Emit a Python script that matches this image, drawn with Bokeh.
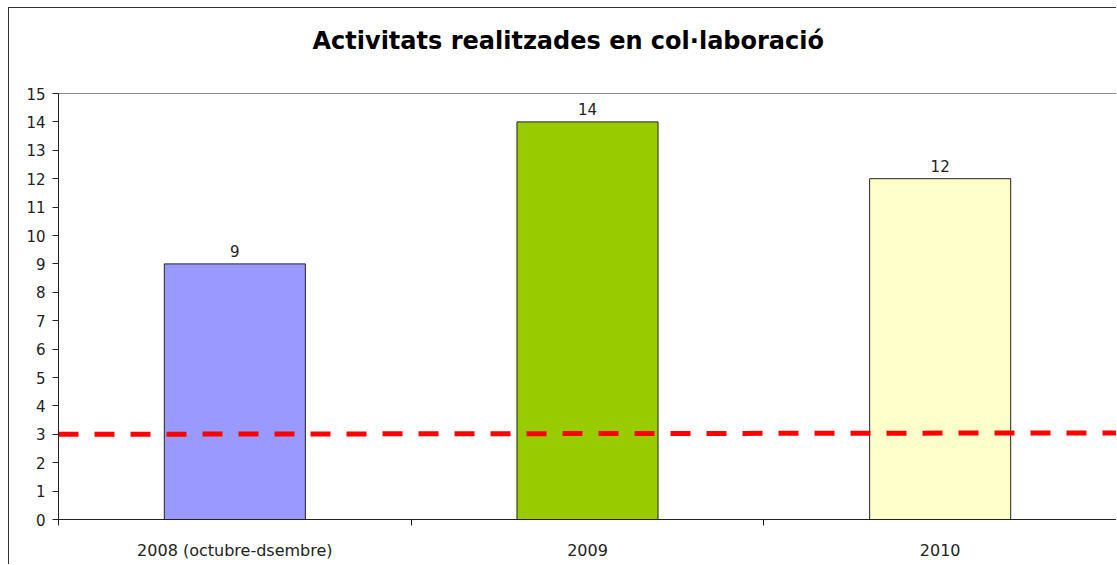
from bokeh.plotting import figure
from bokeh.models import Range1d, FixedTicker, ColumnDataSource, LabelSet, Title
from bokeh.core.properties import value
from bokeh.embed import file_html
from bokeh.resources import INLINE

categories = ["2008 (octubre-dsembre)", "2009", "2010"]
values = [9, 14, 12]
colors = ["#9999FF", "#99CC00", "#FFFFCC"]
target = [3.0, 3.05]
y_ticks = list(range(0, 16))
title_text = "Activitats realitzades en col·laboració"

n = len(categories)
xs = [i + 0.5 for i in range(n)]
y_max = 15

p = figure(width=1108, height=557, x_range=Range1d(0, n), y_range=Range1d(0, y_max),
           output_backend="svg", toolbar_location=None,
           min_border_left=49, min_border_right=1, min_border_top=85, min_border_bottom=46)
p.styles = {"border-left": "1px solid #333333", "border-top": "1px solid #333333",
            "margin-left": "8px", "margin-top": "7px"}
p.background_fill_color = "white"
p.border_fill_color = "white"
p.outline_line_color = "#8c8c8c"
p.outline_line_width = 1
p.xgrid.visible = False
p.ygrid.visible = False

src = ColumnDataSource(dict(x=xs, top=values, color=colors, label=[str(v) for v in values]))
p.vbar(x="x", top="top", width=0.4, bottom=0, fill_color="color", line_color="#222222",
       line_width=1, source=src)

p.line(x=[0, n], y=target, line_color="#FF0000", line_width=5, line_dash="20 16")

labels = LabelSet(x="x", y="top", text="label", source=src, y_offset=7, text_align="center",
                  text_baseline="alphabetic", text_font=value("DejaVu Sans"),
                  text_font_size=value("15px"), text_color=value("#222222"))
p.add_layout(labels)

# x axis
p.xaxis.ticker = FixedTicker(ticks=xs, minor_ticks=list(range(0, n + 1)))
p.xaxis.major_label_overrides = {x: c for x, c in zip(xs, categories)}
p.xaxis.major_tick_out = 0
p.xaxis.major_tick_in = 0
p.xaxis.minor_tick_out = 6
p.xaxis.minor_tick_in = 0
p.xaxis.major_label_standoff = 15
p.xaxis.major_label_text_font = "DejaVu Sans"
p.xaxis.major_label_text_font_size = "16px"
p.xaxis.major_label_text_color = "#222222"
p.xaxis.axis_line_color = "#222222"
p.xaxis.minor_tick_line_color = "#222222"

# y axis
p.yaxis.ticker = FixedTicker(ticks=y_ticks)
p.yaxis.major_tick_out = 6
p.yaxis.major_tick_in = 0
p.yaxis.minor_tick_line_color = None
p.yaxis.major_label_standoff = 7
p.yaxis.major_label_text_font = "DejaVu Sans"
p.yaxis.major_label_text_font_size = "15px"
p.yaxis.major_label_text_color = "#222222"
p.yaxis.axis_line_color = "#222222"
p.yaxis.major_tick_line_color = "#222222"

# spacer panel between the frame and the title (first added sits nearest the frame)
spacer = Title(text=" ", text_font="DejaVu Sans", text_font_size="10px", standoff=26)
p.add_layout(spacer, "above")

t = Title(text=title_text, align="left", text_font="DejaVu Sans",
          text_font_size="24px", text_font_style="bold", text_color="#000000",
          standoff=0, offset=254)
p.add_layout(t, "above")

open("out.html", "w").write(file_html(p, INLINE))
